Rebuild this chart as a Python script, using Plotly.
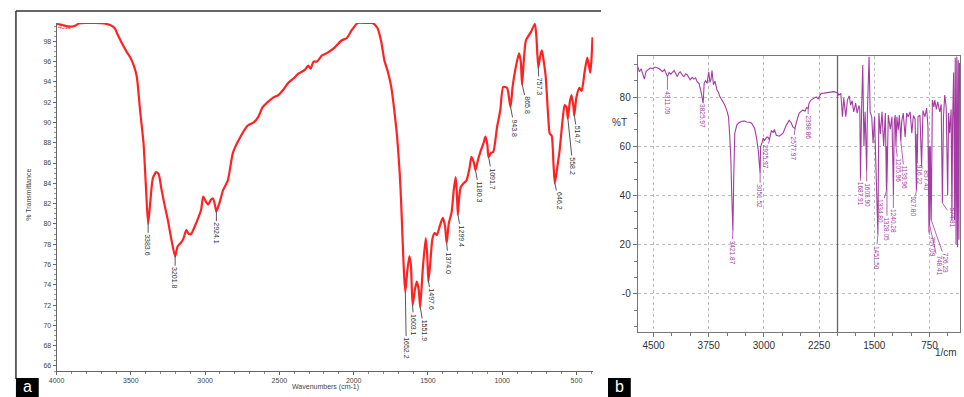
import numpy as np
import plotly.graph_objects as go

# ---------------- Panel a data (FTIR, red) ----------------
a_wn = [4000, 3960, 3920, 3880, 3850, 3800, 3740, 3680, 3640, 3610, 3593, 3560, 3530, 3504, 3480, 3460,
        3438, 3415, 3398, 3384, 3370, 3352, 3330, 3313, 3295, 3275, 3250, 3225, 3202, 3185, 3160, 3145,
        3127, 3110, 3095, 3060, 3027, 3013, 2995, 2980, 2960, 2947, 2930, 2924, 2905, 2893, 2880, 2847,
        2813, 2773, 2713, 2673, 2640, 2613, 2547, 2507, 2470, 2440, 2400, 2373, 2327, 2307, 2290, 2270,
        2247, 2213, 2173, 2127, 2080, 2047, 2013, 1973, 1920, 1873, 1840, 1815, 1793, 1770, 1747, 1725,
        1707, 1690, 1680, 1668, 1660, 1652, 1640, 1625, 1615, 1603, 1588, 1575, 1562, 1552, 1535, 1515,
        1505, 1497, 1485, 1470, 1455, 1440, 1420, 1400, 1385, 1374, 1360, 1340, 1325, 1313, 1305, 1299,
        1290, 1280, 1260, 1240, 1220, 1207, 1190, 1180, 1165, 1147, 1125, 1113, 1100, 1092, 1075, 1060,
        1035, 1013, 993, 967, 955, 944, 930, 913, 887, 875, 866, 855, 840, 807, 780, 770, 757, 745, 733,
        720, 707, 690, 680, 667, 655, 646, 630, 613, 595, 580, 567, 558, 545, 533, 520, 515, 500, 480,
        465, 445, 427, 415, 407, 400, 392]
a_T = [99.7, 99.6, 99.45, 99.5, 99.75, 99.8, 99.8, 99.75, 99.6, 99.3, 98.8, 97.8, 97.0, 96.4, 95.6, 94.5,
       91.2, 88.0, 83.5, 80.0, 82.0, 84.5, 85.1, 84.9, 83.5, 82.0, 80.3, 78.3, 76.8, 77.8, 78.2, 78.6,
       79.4, 79.0, 79.0, 80.1, 81.4, 82.7, 82.2, 81.9, 82.4, 82.5, 81.6, 81.2, 82.0, 82.6, 83.3, 84.3,
       87.0, 88.3, 89.7, 90.0, 90.6, 91.5, 92.4, 92.7, 93.3, 93.9, 94.4, 94.8, 95.2, 95.6, 95.3, 96.0,
       96.0, 96.6, 96.9, 97.4, 98.1, 98.3, 99.1, 99.8, 99.8, 99.8, 99.3, 98.0, 96.1, 95.0, 93.5, 91.0,
       88.5, 85.0, 82.0, 77.5, 74.8, 73.3, 75.2, 76.8, 76.0, 72.0, 73.5, 74.3, 73.5, 71.8, 75.5, 78.6,
       77.0, 74.3, 76.0, 78.5, 79.1, 78.9, 79.8, 80.6, 79.8, 78.1, 80.0, 81.2, 83.5, 84.6, 83.0, 80.9,
       82.5, 83.6, 84.0, 84.3, 85.5, 86.6, 86.0, 85.3, 86.2, 87.1, 88.0, 88.6, 87.8, 86.6, 87.0, 87.1,
       89.5, 91.2, 93.5, 93.4, 92.5, 91.5, 93.5, 95.1, 96.8, 96.0, 93.7, 96.0, 98.1, 98.9, 99.7, 98.5,
       95.4, 96.5, 97.1, 96.0, 94.5, 90.5, 88.9, 88.7, 86.0, 84.0, 85.5, 87.3, 90.0, 91.7, 91.5, 90.4,
       92.0, 92.7, 91.5, 90.7, 92.5, 93.4, 93.1, 95.0, 96.4, 95.5, 94.9, 96.0, 98.4]

a_peaks = [3383.6, 3201.8, 2924.1, 1652.2, 1603.1, 1551.9, 1497.6, 1374.0, 1299.4, 1180.3, 1091.7,
           943.8, 865.8, 757.3, 646.2, 558.2, 514.7]
a_peak_labels = ["3383.6", "3201.8", "2924.1", "1652.2", "1603.1", "1551.9", "1497.6", "1374.0", "1299.4",
                 "1180.3", "1091.7", "943.8", "865.8", "757.3", "646.2", "558.2", "514.7"]
a_xticks = [4000, 3500, 3000, 2500, 2000, 1500, 1000, 500]
a_yticks = [66, 68, 70, 72, 74, 76, 78, 80, 82, 84, 86, 88, 90, 92, 94, 96, 98]

# ---------------- Panel b data (FTIR, purple) ----------------
b_wn = [4715, 4692, 4668, 4648, 4625, 4601, 4581, 4547, 4513, 4480, 4446, 4413, 4379, 4352, 4311.09, 4289,
        4264, 4221, 4197, 4177, 4157, 4137, 4110, 4087, 4063, 4042, 4002, 3975, 3952, 3928, 3908, 3881,
        3854, 3825.97, 3812, 3794, 3773, 3750, 3733, 3719, 3706, 3686, 3665, 3638, 3618, 3598, 3564, 3531,
        3504, 3481, 3464, 3450, 3437, 3421.87, 3410, 3396, 3369, 3346, 3302, 3261, 3235, 3194, 3167, 3140,
        3127, 3100, 3077, 3051.52, 3046, 3026, 3010, 2992, 2976, 2960, 2940, 2925.97, 2898, 2875, 2858, 2831,
        2791, 2741, 2696, 2656, 2629, 2606, 2577.97, 2562, 2521, 2472, 2441, 2420, 2398.86, 2387, 2360, 2320,
        2290, 2263, 2223, 2183, 2133, 2090, 2050, 2000, 1982, 1955, 1933, 1915, 1888, 1865, 1841, 1821,
        1801, 1780, 1753, 1733, 1709, 1697, 1687.91, 1672, 1657, 1641, 1625, 1603.90, 1594, 1571, 1557, 1535,
        1517, 1497, 1471, 1451.50, 1438, 1418, 1395, 1373, 1350, 1334.80, 1331, 1328.05, 1310, 1283, 1260,
        1240.28, 1229, 1216, 1205.96, 1193, 1175, 1160, 1139.96, 1128, 1107, 1081, 1060, 1040, 1013, 990,
        969, 946, 927.80, 922, 916.22, 906, 880, 857.40, 839, 812, 789, 771, 757.09, 752, 748.41, 739,
        726.23, 711, 691, 678, 657, 638, 611, 591, 574.81, 560, 543, 523, 503, 490, 476, 456, 445, 436,
        422, 409, 400, 389, 379, 369, 359, 350, 342]
b_T = [92.4, 90.3, 91.5, 89.8, 87.3, 90.5, 91.0, 91.8, 91.6, 92.2, 91.8, 91.3, 90.3, 91.2, 88.3, 90.0,
       89.3, 90.8, 89.5, 88.3, 89.8, 90.3, 89.0, 88.3, 89.5, 89.0, 87.0, 88.0, 87.3, 87.8, 86.3, 85.5,
       82.0, 77.5, 85.7, 86.6, 85.6, 90.3, 86.0, 87.3, 90.8, 85.0, 86.5, 82.9, 82.0, 80.1, 78.5, 76.7,
       74.5, 72.0, 63.8, 55.0, 40.0, 25.7, 48.0, 65.3, 68.6, 69.4, 70.2, 70.3, 69.9, 69.8, 69.4, 68.2,
       67.3, 63.3, 58.4, 49.0, 59.7, 61.5, 63.3, 62.4, 63.2, 63.8, 63.6, 62.5, 66.5, 65.5, 66.8, 64.5,
       64.1, 65.3, 68.6, 70.6, 69.5, 67.9, 67.2, 69.4, 73.5, 74.7, 74.3, 75.8, 75.3, 77.5, 78.8, 79.5,
       80.1, 79.3, 81.5, 81.6, 81.8, 82.0, 82.2, 81.8, 80.8, 81.5, 72.0, 79.6, 72.0, 78.8, 80.5, 76.7,
       78.5, 74.0, 77.5, 73.5, 76.5, 75.0, 47.0, 76.0, 93.0, 60.0, 74.0, 50.0, 74.0, 96.4, 74.0, 72.0,
       61.2, 72.0, 47.5, 24.0, 73.5, 65.0, 74.0, 60.0, 73.5, 42.0, 60.0, 45.0, 72.7, 67.0, 72.0,
       40.0, 70.0, 72.7, 60.0, 72.0, 66.5, 72.7, 62.0, 70.0, 73.5, 63.8, 73.5, 72.0, 74.0, 65.3,
       72.5, 71.0, 42.0, 65.0, 54.0, 72.0, 72.7, 52.0, 74.5, 72.0, 75.5, 67.9, 25.0, 60.0, 28.0, 60.0,
       30.0, 78.8, 76.0, 78.8, 75.0, 78.1, 74.0, 77.0, 37.0, 72.0, 80.8, 76.0, 40.0, 73.5, 65.3, 75.0, 30.0, 70.0,
       90.0, 30.0, 96.0, 20.0, 96.5, 19.0, 95.0, 22.0, 94.0]

b_peaks = [4311.09, 3825.97, 3421.87, 3051.52, 2925.97, 2577.97, 2398.86, 1687.91, 1603.90, 1451.50,
           1334.80, 1328.05, 1240.28, 1205.96, 1139.96, 927.80, 916.22, 857.40, 757.09, 748.41, 726.23, 574.81]
b_peak_labels = ["4311.09", "3825.97", "3421.87", "3051.52", "2925.97", "2577.97", "2398.86", "1687.91",
                 "1603.90", "1451.50", "1334.80", "1328.05", "1240.28", "1205.96", "1139.96", "927.80",
                 "916.22", "857.40", "757.09", "748.41", "726.23", "574.81"]
b_xticks = [4500, 3750, 3000, 2250, 1500, 750]
b_yticks = [0, 20, 40, 60, 80]
b_yticklabels = ["-0", "20", "40", "60", "80"]

# ---------------- label offsets (pixels, layout only) ----------------
a_dx = [0, 0, 0, 1, 1, 4, 3, 2, 4, 4, 4, 4, 5, 1, 4, 5, 3]
a_dy = [22, 22, 22, 57, 20, 24, 20, 20, 23, 22, 22, 21, 21, 20, 18, 48, 20]
b_dx = [0, 0, -1, 0, -4, -2, 0, 0, 0, -2, -6, 0, 0, 3, 4, -3, 3, 4, 4, 9, 15, 10]
b_dy = [26, 13, 22, 23, 17, 20, 19, 16, 24, 23, 21, 46, 26, 24, 36, 16, 14, 14, 14, 40, 43, 15]

W, H = 964, 397

fig = go.Figure()
fig.add_trace(go.Scatter(x=a_wn, y=a_T, mode="lines", xaxis="x", yaxis="y",
                         line=dict(color="#ff2222", width=2.2, shape="spline", smoothing=0.6),
                         hoverinfo="skip", showlegend=False))
fig.add_trace(go.Scatter(x=b_wn, y=b_T, mode="lines", xaxis="x2", yaxis="y2",
                         line=dict(color="#a43ca4", width=1.1),
                         hoverinfo="skip", showlegend=False))

small = dict(family="Liberation Sans, Arial", size=7, color="#444")
fig.update_layout(
    width=W, height=H, margin=dict(l=0, r=0, t=0, b=0),
    paper_bgcolor="white", plot_bgcolor="white",
    xaxis=dict(domain=[49 / W, 590 / W], range=[4000, 388], tickvals=a_xticks,
               showgrid=False, zeroline=False, showline=True, linecolor="#666", linewidth=1,
               ticks="outside", ticklen=3, tickcolor="#666", tickfont=small,
               minor=dict(dtick=100, ticks="outside", ticklen=2, tickcolor="#888"), anchor="y"),
    yaxis=dict(domain=[1 - 371 / H, 1 - 23 / H], range=[65.5, 99.8], tickvals=a_yticks,
               showgrid=False, zeroline=False, showline=True, linecolor="#666", linewidth=1,
               ticks="outside", ticklen=3, tickcolor="#666", tickfont=small,
               minor=dict(dtick=0.5, ticks="outside", ticklen=2, tickcolor="#999"), anchor="x"),
    xaxis2=dict(domain=[635 / W, 960 / W], range=[4715, 335], tickvals=b_xticks,
                showgrid=True, gridcolor="#bbb", griddash="dot", gridwidth=1, zeroline=False,
                showline=True, mirror=True, linecolor="#777", linewidth=1,
                ticks="outside", ticklen=4, tickcolor="#777",
                tickfont=dict(family="Liberation Sans, Arial", size=10, color="#333"),
                minor=dict(dtick=250, ticks="outside", ticklen=3, tickcolor="#777", showgrid=False),
                anchor="y2"),
    yaxis2=dict(domain=[1 - 332 / H, 1 - 56 / H], range=[-15.5, 96.7], tickvals=b_yticks,
                ticktext=b_yticklabels,
                showgrid=True, gridcolor="#bbb", griddash="dot", gridwidth=1, zeroline=False,
                showline=True, mirror=True, linecolor="#777", linewidth=1,
                ticks="outside", ticklen=4, tickcolor="#777",
                tickfont=dict(family="Liberation Sans, Arial", size=10, color="#333"),
                minor=dict(dtick=20 / 3, ticks="outside", ticklen=3, tickcolor="#777", showgrid=False),
                anchor="x2"),
)

shapes = []
annotations = []

# panel a frame lines (left + top)
shapes.append(dict(type="line", xref="paper", yref="paper", x0=8 / W, x1=8 / W, y0=1 - 379 / H, y1=1 - 11 / H,
                   line=dict(color="#333", width=1.5)))
shapes.append(dict(type="line", xref="paper", yref="paper", x0=8 / W, x1=598 / W, y0=1 - 11 / H, y1=1 - 11 / H,
                   line=dict(color="#333", width=1.5)))
# panel letter boxes
for x0, x1, letter in [(8, 31, "a"), (605, 628, "b")]:
    shapes.append(dict(type="rect", xref="paper", yref="paper", x0=x0 / W, x1=x1 / W, y0=0, y1=1 - 378 / H,
                       fillcolor="black", line=dict(width=0)))
    annotations.append(dict(xref="paper", yref="paper", x=(x0 + x1) / 2 / W, y=1 - 386 / H, text=letter,
                            showarrow=False, font=dict(family="Liberation Sans, Arial", size=16, color="white"),
                            xanchor="center", yanchor="middle"))
# vertical dark line in panel b at 2000
shapes.append(dict(type="line", xref="x2", yref="y2 domain", x0=2000, x1=2000, y0=0, y1=1,
                   line=dict(color="#666", width=1.3)))

# axis titles
annotations.append(dict(xref="paper", yref="paper", x=20 / W, y=1 - 195 / H, text="% Transmittance",
                        textangle=-90, showarrow=False, font=small, xanchor="center", yanchor="middle"))
annotations.append(dict(xref="paper", yref="paper", x=320 / W, y=1 - 387 / H, text="Wavenumbers (cm-1)",
                        showarrow=False, font=small, xanchor="center", yanchor="middle"))
annotations.append(dict(xref="paper", yref="paper", x=57 / W, y=1 - 27 / H, text="4011",
                        showarrow=False, font=dict(family="Liberation Sans, Arial", size=6, color="#ff3333"),
                        xanchor="center", yanchor="middle"))
annotations.append(dict(xref="paper", yref="paper", x=617 / W, y=1 - 122 / H, text="%T",
                        showarrow=False, font=dict(family="Liberation Sans, Arial", size=10, color="#333"),
                        xanchor="center", yanchor="middle"))
annotations.append(dict(xref="paper", yref="paper", x=946 / W, y=1 - 352 / H, text="1/cm",
                        showarrow=False, font=dict(family="Liberation Sans, Arial", size=10, color="#333"),
                        xanchor="center", yanchor="middle"))

# peak labels panel a
a_wn_asc = np.array(a_wn[::-1], dtype=float)
a_T_asc = np.array(a_T[::-1], dtype=float)
for wn, lab, dx, dy in zip(a_peaks, a_peak_labels, a_dx, a_dy):
    yv = float(np.interp(wn, a_wn_asc, a_T_asc))
    annotations.append(dict(xref="x", yref="y", x=wn, y=yv, text=lab, textangle=90,
                            showarrow=True, arrowhead=0, arrowwidth=1, arrowcolor="#555",
                            ax=dx, ay=dy, standoff=0,
                            font=dict(family="Liberation Sans, Arial", size=7, color="#333")))

# peak labels panel b
b_wn_asc = np.array(b_wn[::-1], dtype=float)
b_T_asc = np.array(b_T[::-1], dtype=float)
for wn, lab, dx, dy in zip(b_peaks, b_peak_labels, b_dx, b_dy):
    yv = float(np.interp(wn, b_wn_asc, b_T_asc))
    annotations.append(dict(xref="x2", yref="y2", x=wn, y=yv, text=lab, textangle=90,
                            showarrow=True, arrowhead=0, arrowwidth=0.8, arrowcolor="#a43ca4",
                            ax=dx, ay=dy, standoff=0,
                            font=dict(family="Liberation Sans, Arial", size=6.5, color="#a43ca4")))

fig.update_layout(shapes=shapes, annotations=annotations)
fig.write_html("out.html", config={"displayModeBar": False},
               post_script="document.body.style.margin='0px';document.body.style.overflow='hidden';")
